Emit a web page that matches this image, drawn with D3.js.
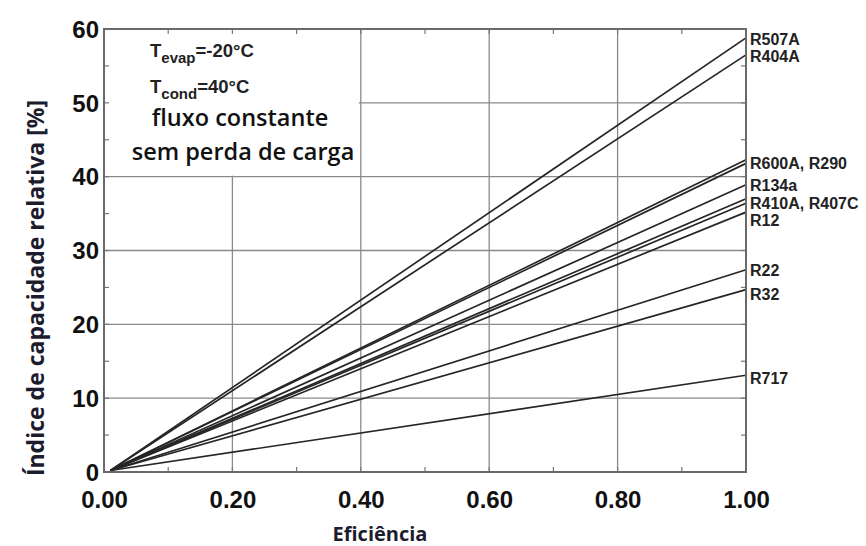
<!DOCTYPE html>
<html><head><meta charset="utf-8">
<script src="https://cdn.jsdelivr.net/npm/d3@7"></script>
<style>html,body{margin:0;padding:0;background:#fff;}</style>
</head><body>
<svg id="c" width="866" height="546"></svg>
<script>
// ---- data ----
const refrigerants = ["R507A","R404A","R600A","R290","R134a","R410A","R407C","R12","R22","R32","R717"];
const capacityAtFullEff = [58.8, 56.5, 42.3, 41.8, 38.9, 37.0, 36.4, 35.2, 27.4, 24.7, 13.1];
const startEff = 0.01, startCap = 0.2;
const labelTexts = ["R507A","R404A","R600A, R290","R134a","R410A, R407C","R12","R22","R32","R717"];
const labelValues = [58.6, 56.3, 41.8, 38.8, 36.4, 34.1, 27.3, 24.1, 12.7];
const xTicks = [0, 0.2, 0.4, 0.6, 0.8, 1.0];
const xMinor = [0.1,0.2,0.3,0.4,0.5,0.6,0.7,0.8,0.9];
const yTicks = [0, 10, 20, 30, 40, 50, 60];
const yMinor = [5,10,15,20,25,30,35,40,45,50,55];

const svg = d3.select("#c");
const L = 104, R = 746, T = 29, B = 472;
const x = d3.scaleLinear().domain([0,1]).range([L,R]);
const y = d3.scaleLinear().domain([0,60]).range([B,T]);

// grid
const grid = svg.append("g");
grid.selectAll("line.vx").data(xTicks.slice(1,-1)).join("line")
  .attr("x1", d=>x(d)).attr("x2", d=>x(d)).attr("y1", T).attr("y2", B)
  .attr("stroke", "#8a8a8a").attr("stroke-width", 1.3);
grid.selectAll("line.hy").data(yTicks.slice(1,-1)).join("line")
  .attr("y1", d=>y(d)).attr("y2", d=>y(d)).attr("x1", L).attr("x2", R)
  .attr("stroke", "#8a8a8a").attr("stroke-width", 1.3);

// white annotation box covering grid
svg.append("rect").attr("x", L).attr("y", T).attr("width", x(0.4)-L-2).attr("height", y(40)-T-1).attr("fill", "#fff");

// minor ticks (inward, all sides)
const tk = svg.append("g").attr("stroke", "#777").attr("stroke-width", 1.2);
xMinor.forEach(d=>{
  tk.append("line").attr("x1",x(d)).attr("x2",x(d)).attr("y1",B).attr("y2",B-5);
  tk.append("line").attr("x1",x(d)).attr("x2",x(d)).attr("y1",T).attr("y2",T+5);
});
yMinor.forEach(d=>{
  tk.append("line").attr("y1",y(d)).attr("y2",y(d)).attr("x1",L).attr("x2",L+5);
  tk.append("line").attr("y1",y(d)).attr("y2",y(d)).attr("x1",R).attr("x2",R-5);
});

// series lines
const line = d3.line().x(d=>x(d[0])).y(d=>y(d[1]));
svg.append("g").selectAll("path").data(refrigerants.map((r,i)=>[[startEff,startCap],[1.0,capacityAtFullEff[i]]]))
  .join("path").attr("d", line).attr("fill","none").attr("stroke","#262626").attr("stroke-width",1.7);

// frame
svg.append("rect").attr("x",L).attr("y",T).attr("width",R-L).attr("height",B-T)
  .attr("fill","none").attr("stroke","#6a6a6a").attr("stroke-width",2);

// axes tick labels
const xAxis = d3.axisBottom(x).tickValues(xTicks).tickFormat(d3.format(".2f")).tickSize(0).tickPadding(19);
const gx = svg.append("g").attr("transform",`translate(0,${B})`).call(xAxis);
gx.select(".domain").remove();
gx.selectAll("text").attr("font-family","'Liberation Sans', Arial, sans-serif").attr("font-weight","bold")
  .attr("font-size",24).attr("fill","#111").attr("dy","0.72em");

const yAxis = d3.axisLeft(y).tickValues(yTicks).tickFormat(d3.format("d")).tickSize(0).tickPadding(5);
const gy = svg.append("g").attr("transform",`translate(${L},0)`).call(yAxis);
gy.select(".domain").remove();
gy.selectAll("text").attr("font-family","'Liberation Sans', Arial, sans-serif").attr("font-weight","bold")
  .attr("font-size",24).attr("fill","#111").attr("dy","0.34em");

// axis titles
svg.append("text").attr("x", 380).attr("y", 541).attr("text-anchor","middle")
  .attr("font-family","'Open Sans', 'Noto Sans', sans-serif").attr("font-weight","bold").attr("font-size",20)
  .attr("fill","#1c1c2e").text("Eficiência");
svg.append("text").attr("transform","translate(44,288) rotate(-90)").attr("text-anchor","middle")
  .attr("font-family","'Open Sans', 'Noto Sans', sans-serif").attr("font-weight","bold").attr("font-size",23)
  .attr("fill","#1c1c2e").text("Índice de capacidade relativa [%]");

// right labels
svg.append("g").selectAll("text").data(labelTexts).join("text")
  .attr("x", R+4).attr("y",(d,i)=>y(labelValues[i])).attr("dy","0.36em")
  .attr("font-family","'Liberation Sans', Arial, sans-serif").attr("font-weight","bold").attr("font-size",16)
  .attr("fill","#222").text(d=>d);

// annotation
const ann = svg.append("g").attr("font-family","'Liberation Sans', Arial, sans-serif").attr("font-weight","bold").attr("fill","#222");
const t1 = ann.append("text").attr("x",150).attr("y",57).attr("font-size",18.5);
t1.append("tspan").text("T");
t1.append("tspan").attr("font-size",15).attr("dy",6).text("evap");
t1.append("tspan").attr("dy",-6).text("=-20°C");
const t2 = ann.append("text").attr("x",150).attr("y",93).attr("font-size",18.5);
t2.append("tspan").text("T");
t2.append("tspan").attr("font-size",15).attr("dy",6).text("cond");
t2.append("tspan").attr("dy",-6).text("=40°C");
const ann2 = svg.append("g").attr("font-family","'Open Sans', 'Noto Sans', sans-serif").attr("font-weight","600")
  .attr("font-size",23.5).attr("fill","#111").attr("text-anchor","middle");
ann2.append("text").attr("x",240).attr("y",126).text("fluxo constante");
ann2.append("text").attr("x",243).attr("y",160).text("sem perda de carga");
</script>
</body></html>
